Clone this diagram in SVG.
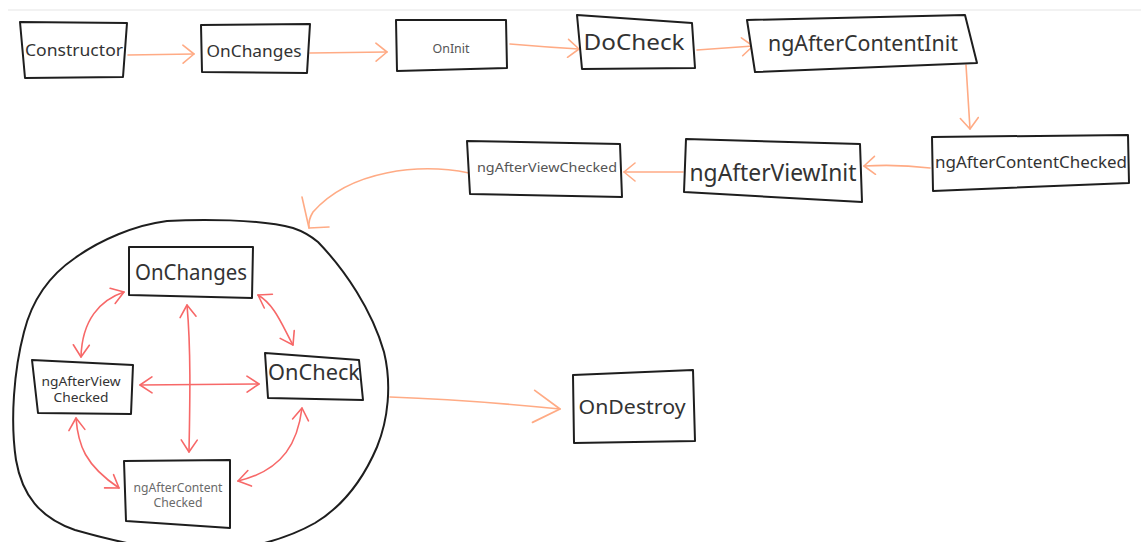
<svg xmlns="http://www.w3.org/2000/svg" width="1141" height="542" viewBox="0 0 1141 542">
  <style>
    .box { fill: #ffffff; stroke: #1e1e1e; stroke-width: 2; stroke-linejoin: round; stroke-linecap: round; }
    .lbl { font-family: "Noto Sans", "Open Sans", sans-serif; fill: #333333; text-anchor: middle; dominant-baseline: central; }
    .lbl.soft { fill: #555555; }
    .lbl.faint { fill: #6a6a6a; }
    .flow { fill: none; stroke: #ffab85; stroke-width: 1.6; stroke-linecap: round; stroke-linejoin: round; }
    .cycle { fill: none; stroke: #f76868; stroke-width: 1.6; stroke-linecap: round; stroke-linejoin: round; }
    .ring { fill: none; stroke: #1e1e1e; stroke-width: 2; stroke-linecap: round; }
  </style>
  <defs>
    <marker id="ah-flow" viewBox="-14 -10 16 20" refX="0" refY="0" markerWidth="16" markerHeight="20" markerUnits="userSpaceOnUse" orient="auto">
      <path d="M-11,-9 L0,0 L-11,9" fill="none" stroke="#ffab85" stroke-width="1.6" stroke-linecap="round" stroke-linejoin="round"/>
    </marker>
    <marker id="ah-flow-big" viewBox="-30 -20 32 40" refX="0" refY="0" markerWidth="32" markerHeight="40" markerUnits="userSpaceOnUse" orient="auto">
      <path d="M-27,-16 L0,0 L-26,16" fill="none" stroke="#ffab85" stroke-width="1.8" stroke-linecap="round" stroke-linejoin="round"/>
    </marker>
    <marker id="ah-cycle" viewBox="-14 -10 16 20" refX="0" refY="0" markerWidth="16" markerHeight="20" markerUnits="userSpaceOnUse" orient="auto-start-reverse">
      <path d="M-12,-8 L0,0 L-12,8" fill="none" stroke="#f76868" stroke-width="1.6" stroke-linecap="round" stroke-linejoin="round"/>
    </marker>
  </defs>

  <rect width="1141" height="542" fill="#ffffff"/>
  <line x1="8" y1="10" x2="1141" y2="10" stroke="#eeeeee" stroke-width="1.5"/>

  <!-- hand-drawn boundary around the change-detection cycle -->
  <path class="ring" d="M167,221 C200,219 260,219 293,228 C305,232 312,237 318,242 C345,270 372,310 384,352 C392,385 388,420 377,447 C365,475 345,505 315,523 C285,540 240,552 200,552 C160,552 110,540 75,530 C40,518 22,495 16,460 C10,420 14,370 24,332 C32,300 50,275 75,258 C100,240 135,225 167,221 Z"/>

  <g id="connectors">
    <!-- main lifecycle sequence -->
    <path class="flow" d="M128,55 L194,54" marker-end="url(#ah-flow)"/>
    <path class="flow" d="M310,53 L387,52" marker-end="url(#ah-flow)"/>
    <path class="flow" d="M510,44 Q545,47 579,49" marker-end="url(#ah-flow)"/>
    <path class="flow" d="M697,50 Q725,48 753,46" marker-end="url(#ah-flow)"/>
    <path class="flow" d="M966,65 Q968,96 970,129" marker-end="url(#ah-flow)"/>
    <path class="flow" d="M930,168 Q898,164 864,166" marker-end="url(#ah-flow)"/>
    <path class="flow" d="M683,172 L624,172" marker-end="url(#ah-flow)"/>
    <path class="flow" d="M469,173 C420,163 350,170 313,212 Q308,220 309,228"/>
    <path class="flow" d="M302,197 L309,228 L329,227"/>
    <path class="flow" d="M390,397 C450,399 510,404 560,409" marker-end="url(#ah-flow-big)"/>

    <!-- repeating change-detection cycle -->
    <path class="cycle" d="M124,292 C100,300 82,320 81,357" marker-start="url(#ah-cycle)" marker-end="url(#ah-cycle)"/>
    <path class="cycle" d="M258,295 C275,305 282,325 293,345" marker-start="url(#ah-cycle)" marker-end="url(#ah-cycle)"/>
    <path class="cycle" d="M187,305 C191,350 190,400 189,452" marker-start="url(#ah-cycle)" marker-end="url(#ah-cycle)"/>
    <path class="cycle" d="M140,385 L259,384" marker-start="url(#ah-cycle)" marker-end="url(#ah-cycle)"/>
    <path class="cycle" d="M76,418 C78,445 85,465 119,488" marker-start="url(#ah-cycle)" marker-end="url(#ah-cycle)"/>
    <path class="cycle" d="M302,408 C298,440 285,470 238,481" marker-start="url(#ah-cycle)" marker-end="url(#ah-cycle)"/>
  </g>

  <g id="node-constructor">
    <path class="box" d="M20,22 L127,23 L123,77 L25,78 Z"/>
    <text class="lbl" x="74" y="49" font-size="17" textLength="98" lengthAdjust="spacingAndGlyphs">Constructor</text>
  </g>
  <g id="node-onchanges">
    <path class="box" d="M201,25 L310,24 L307,73 L202,72 Z"/>
    <text class="lbl" x="254" y="50" font-size="17" textLength="95" lengthAdjust="spacingAndGlyphs">OnChanges</text>
  </g>
  <g id="node-oninit">
    <path class="box" d="M396,20 L506,20 L507,68 L397,71 Z"/>
    <text class="lbl soft" x="451" y="48" font-size="12" textLength="37" lengthAdjust="spacingAndGlyphs">OnInit</text>
  </g>
  <g id="node-docheck">
    <path class="box" d="M577,15 L692,23 L695,68 L582,69 Z"/>
    <text class="lbl" x="634" y="41" font-size="22" textLength="101" lengthAdjust="spacingAndGlyphs">DoCheck</text>
  </g>
  <g id="node-after-content-init">
    <path class="box" d="M747,20 L965,15 L977,63 L755,72 Z"/>
    <text class="lbl" x="863" y="43" font-size="21" textLength="190" lengthAdjust="spacingAndGlyphs">ngAfterContentInit</text>
  </g>
  <g id="node-after-content-checked">
    <path class="box" d="M932,137 L1128,135 L1129,183 L933,191 Z"/>
    <text class="lbl" x="1031" y="161" font-size="17" textLength="192" lengthAdjust="spacingAndGlyphs">ngAfterContentChecked</text>
  </g>
  <g id="node-after-view-init">
    <path class="box" d="M686,139 L860,144 L862,202 L684,192 Z"/>
    <text class="lbl" x="773" y="171" font-size="24" textLength="167" lengthAdjust="spacingAndGlyphs">ngAfterViewInit</text>
  </g>
  <g id="node-after-view-checked">
    <path class="box" d="M467,141 L620,144 L622,197 L470,194 Z"/>
    <text class="lbl soft" x="547" y="167" font-size="13" textLength="140" lengthAdjust="spacingAndGlyphs">ngAfterViewChecked</text>
  </g>

  <g id="node-cycle-onchanges">
    <path class="box" d="M129,247 L253,247 L252,298 L129,295 Z"/>
    <text class="lbl" x="191" y="272" font-size="21" textLength="112" lengthAdjust="spacingAndGlyphs">OnChanges</text>
  </g>
  <g id="node-cycle-after-view-checked">
    <path class="box" d="M32,360 L133,365 L131,414 L38,413 Z"/>
    <text class="lbl" x="81" y="381" font-size="13" textLength="79" lengthAdjust="spacingAndGlyphs">ngAfterView</text>
    <text class="lbl" x="81" y="397" font-size="13" textLength="55" lengthAdjust="spacingAndGlyphs">Checked</text>
  </g>
  <g id="node-cycle-oncheck">
    <path class="box" d="M265,353 L359,360 L363,400 L268,398 Z"/>
    <text class="lbl" x="314" y="372" font-size="21" textLength="92" lengthAdjust="spacingAndGlyphs">OnCheck</text>
  </g>
  <g id="node-cycle-after-content-checked">
    <path class="box" d="M124,461 L230,460 L230,528 L126,521 Z"/>
    <text class="lbl faint" x="178" y="487" font-size="12" textLength="89" lengthAdjust="spacingAndGlyphs">ngAfterContent</text>
    <text class="lbl faint" x="178" y="502" font-size="12" textLength="49" lengthAdjust="spacingAndGlyphs">Checked</text>
  </g>

  <g id="node-ondestroy">
    <path class="box" d="M573,375 L693,370 L695,441 L574,443 Z"/>
    <text class="lbl" x="632" y="406" font-size="20" textLength="107" lengthAdjust="spacingAndGlyphs">OnDestroy</text>
  </g>
</svg>
